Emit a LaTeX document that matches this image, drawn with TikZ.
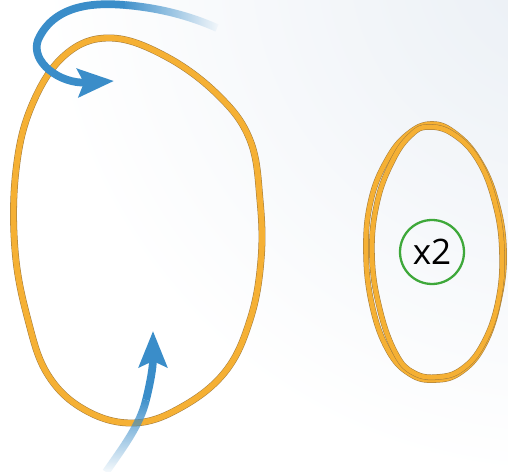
\documentclass[tikz,border=0pt]{standalone}
\usepackage{fontspec}
\setsansfont{Open Sans}
\usetikzlibrary{arrows.meta,fadings}

\definecolor{bandorange}{RGB}{245,176,52}
\definecolor{bandrim}{RGB}{165,125,60}
\definecolor{arrowblue}{RGB}{58,141,201}
\definecolor{bgtint}{RGB}{234,239,245}
\definecolor{ringgreen}{RGB}{62,168,58}

\begin{document}
\begin{tikzpicture}[x=0.02cm,y=-0.02cm,
  band/.style={draw=bandorange,line width=#1,
    preaction={draw=bandrim,line width=#1+0.6pt}},
  band/.default=3.3pt,
  bluestroke/.style={draw=arrowblue,line width=4.4pt},
  bluehead/.style={-{Stealth[length=0.72cm,width=0.56cm,inset=0.12cm]}}]
\useasboundingbox (0,0) rectangle (508,472);
% background
\begin{scope}
  \clip (0,0) rectangle (508,472);
  \fill[white] (0,0) rectangle (508,472);
  \shade[inner color=bgtint,outer color=white] (560,-40) circle (520);
\end{scope}
% big band
\draw[band] plot[smooth cycle,tension=0.65] coordinates {
  (110,38) (165,56) (218,95) (250,140) (260,200) (261,260) (250,320)
  (225,372) (180,408) (133,423) (85,410) (48,375) (28,320) (15,250)
  (16,170) (32,105) (65,55)};
% small band, two turns
\draw[band=2.6pt] plot[smooth cycle,tension=0.7] coordinates {
  (432,124) (456,134) (479,160) (496,200) (504,250) (499,300) (484,345)
  (461,372) (435,380) (410,374) (388,350) (372,305) (366,250) (371,200)
  (387,160) (408,134)};
\draw[band=2.6pt] plot[smooth cycle,tension=0.7] coordinates {
  (428,127) (453,134) (478,160) (495,203) (502,252) (498,302) (483,344)
  (462,369) (438,377) (414,373) (396,354) (380,310) (372,256) (377,203)
  (393,160) (411,135)};
% counter
\node[circle,draw=ringgreen,line width=1.3pt,inner sep=0pt,minimum size=1.28cm,
  font=\sffamily\fontsize{20}{20}\selectfont] (count) at (432,252) {x2};
% top arrow
\draw[bluestroke,path fading=east] (217,28) .. controls (190,16) and (160,8) .. (125,5);
\draw[bluestroke,bluehead] (125,5) .. controls (100,3) and (55,2) .. (38,40)
  .. controls (30,62) and (60,84) .. (114,81);
% bottom arrow
\draw[bluestroke,path fading=south] (106,472) .. controls (124,446) and (140,425) .. (146,400);
\draw[bluestroke,bluehead] (146,400) .. controls (150,384) and (153,368) .. (153,331);
\end{tikzpicture}
\end{document}
